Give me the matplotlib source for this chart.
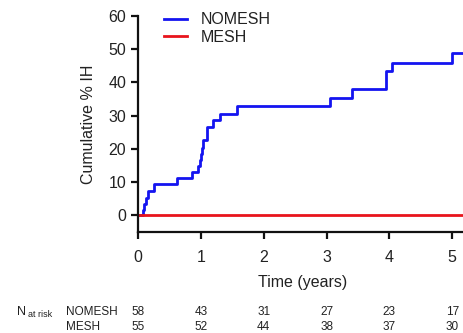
import matplotlib
matplotlib.use('Agg')
import matplotlib.pyplot as plt
from matplotlib.transforms import blended_transform_factory

plt.rcParams['font.family'] = ['Liberation Sans', 'DejaVu Sans']

# Kaplan-Meier style cumulative incidence (step after each time)
nomesh_t = [0, 0.08, 0.10, 0.13, 0.16, 0.25, 0.62, 0.86, 0.95, 0.98, 1.00, 1.02, 1.04,
            1.09, 1.19, 1.30, 1.58, 3.06, 3.41, 3.95, 4.04, 4.99, 5.4]
nomesh_y = [0, 1.7, 3.4, 5.2, 7.4, 9.3, 11.1, 13.0, 14.8, 16.7, 18.6, 20.4, 22.8,
            26.7, 28.7, 30.6, 32.8, 35.4, 37.9, 43.3, 45.9, 48.9, 48.9]
mesh_t = [0, 5.4]
mesh_y = [0, 0]

risk_times = [0, 1, 2, 3, 4, 5]
risk_nomesh = [58, 43, 31, 27, 23, 17]
risk_mesh = [55, 52, 44, 38, 37, 30]

txt = '#222222'

fig = plt.figure(figsize=(4.64, 3.33), dpi=100)
ax = fig.add_axes([138 / 464, 1 - 232 / 333, 330 / 464, 216 / 333])

ax.step(nomesh_t, nomesh_y, where='post', color='#1414f0', lw=2, label='NOMESH')
ax.plot(mesh_t, mesh_y, color='#e8141c', lw=2, label='MESH')

ax.set_xlim(0, 5.25)
ax.set_ylim(-5, 60)
ax.set_xticks(range(0, 6))
ax.set_yticks(range(0, 61, 10))
for s in ['top', 'right']:
    ax.spines[s].set_visible(False)
for s in ['left', 'bottom']:
    ax.spines[s].set_linewidth(1.6)
    ax.spines[s].set_color('#111111')
ax.tick_params(width=1.6, length=5, labelsize=11.5, colors='#111111', labelcolor=txt)
ax.tick_params(axis='x', pad=8)
ax.set_xlabel('Time (years)', fontsize=11.5, color=txt, labelpad=7)
ax.set_ylabel('Cumulative % IH', fontsize=11.5, color=txt, labelpad=9)

ax.legend(loc='upper left', bbox_to_anchor=(150 / 464, 1 + 2 / 333),
          bbox_transform=fig.transFigure, frameon=False, fontsize=11.5,
          handlelength=1.4, handletextpad=0.9, labelspacing=0.15, labelcolor=txt)

# number at risk table
tr = blended_transform_factory(ax.transData, fig.transFigure)
y1 = 1 - 312 / 333
y2 = 1 - 327 / 333
fig.text(17 / 464, y1, 'N', fontsize=9, color=txt, va='center')
fig.text(28 / 464, y1 - 0.008, 'at risk', fontsize=6.5, color=txt, va='center')
fig.text(66 / 464, y1, 'NOMESH', fontsize=8.5, color=txt, va='center')
fig.text(66 / 464, y2, 'MESH', fontsize=8.5, color=txt, va='center')
for t, a, b in zip(risk_times, risk_nomesh, risk_mesh):
    ax.text(t, y1, str(a), transform=tr, fontsize=8.5, color=txt, ha='center', va='center')
    ax.text(t, y2, str(b), transform=tr, fontsize=8.5, color=txt, ha='center', va='center')

fig.savefig('out.png', dpi=100)
